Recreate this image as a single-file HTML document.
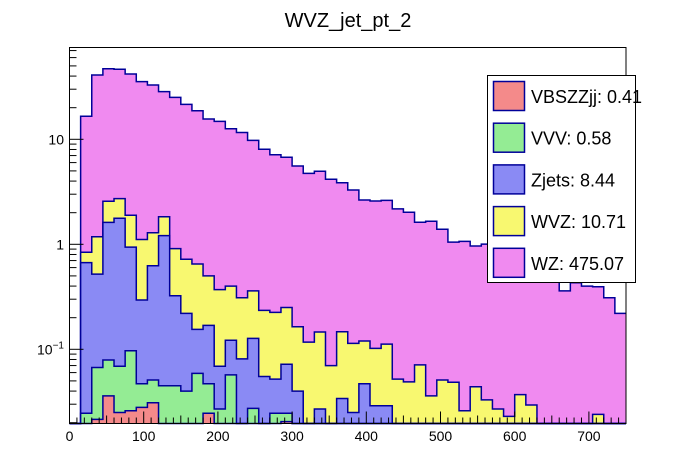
<!DOCTYPE html>
<html><head><meta charset="utf-8"><style>
html,body{margin:0;padding:0;background:#fff;}
svg{display:block;font-family:"Liberation Sans",sans-serif;}
</style></head><body>
<svg id="c" width="696" height="472" viewBox="0 0 696 472">
<text x="348" y="27" text-anchor="middle" font-size="20">WVZ_jet_pt_2</text>
<g id="hist"></g>
<rect x="69.5" y="47.5" width="556.5" height="376" fill="none" stroke="#000" stroke-width="1"/>
<g id="axes"></g>
<g>
<rect x="487.5" y="75.5" width="148" height="207" fill="#fff" stroke="#000"/>
<g id="leg"></g>
</g>
</svg>
<script>
const binEdges = [0, 750];
const nBins = 50;
const vbszzjj = [0,0,0.0215,0.036,0.025,0.026,0.028,0.031,0,0,0,0,0.0246,0,0,0,0,0,0,0.0205,0,0,0,0,0,0,0,0,0,0,0,0,0,0,0,0,0,0,0,0,0,0,0,0,0,0,0,0,0,0];
const vvv = [0,0.0246,0.0455,0.043,0.044,0.071,0.019,0.020,0.045,0.045,0.040,0.059,0.0224,0.027,0.057,0,0.0274,0,0.0246,0.0041,0,0,0,0,0,0,0,0,0,0,0,0,0,0,0,0,0,0,0,0,0,0,0,0,0,0,0,0,0,0];
const zjets = [0,0.645,0.453,1.54,1.70,0.843,0.248,0.574,1.165,0.279,0.18,0.096,0.122,0.042,0.065,0.081,0.0996,0.055,0.0274,0.0474,0.040,0,0.027,0,0.034,0.025,0.047,0.029,0.029,0,0,0,0,0,0,0,0,0,0,0,0,0,0,0,0,0,0,0,0,0];
const wvz = [0,0.17,0.66,0.95,0.95,0.95,0.815,0.665,0.62,0.586,0.50,0.495,0.331,0.301,0.278,0.229,0.233,0.18,0.173,0.178,0.124,0.117,0.119,0.070,0.113,0.089,0.073,0.073,0.083,0.052,0.049,0.071,0.036,0.051,0.0485,0.026,0.044,0.033,0.027,0.023,0.037,0.0295,0,0,0,0,0,0.024,0,0];
const wz = [0,15.76,39.8,44.4,43.7,40.0,34.3,31.6,26.6,24.2,20.8,18.05,15.1,14.43,12.2,11.29,9.42,7.8,6.9,6.49,5.41,4.62,4.81,4.09,3.71,3.18,2.52,2.48,2.51,2.12,1.97,1.55,1.62,1.34,1.0,1.04,0.92,0.97,0.85,0.75,0.64,0.57,0.53,0.48,0.36,0.43,0.40,0.37,0.31,0.22];
const legendLabels = ["VBSZZjj: 0.41","VVV: 0.58","Zjets: 8.44","WVZ: 10.71","WZ: 475.07"];
const xTicks = [0,100,200,300,400,500,600,700];
const yDecades = [0.1,1,10];

const NS="http://www.w3.org/2000/svg";
const X0=69.5,X1=626,YB=423.5,YT=47.5;
const yMin=Math.pow(10,(244.3-YB)/105);
function X(v){return X0+(v-binEdges[0])*(X1-X0)/(binEdges[1]-binEdges[0]);}
function Y(v){return 244.3-105*Math.log10(v);}
function mk(t,a,p){const e=document.createElementNS(NS,t);for(const k in a)e.setAttribute(k,a[k]);(p||document.getElementById('c')).appendChild(e);return e;}

const layers=[vbszzjj,vvv,zjets,wvz,wz];
const fills=['#f48a8a','#94ec94','#8a8af4','#f8f870','#f08af0'];
const names=['vbszzjj','vvv','zjets','wvz','wz'];
const cum=[];let run=new Array(nBins).fill(0);
layers.forEach((s,i)=>{run=run.map((r,b)=>r+s[b]);cum.push(run.slice());});
const bw=(binEdges[1]-binEdges[0])/nBins;
const hg=document.getElementById('hist');
for(let i=layers.length-1;i>=0;i--){
  let d='';
  for(let b=0;b<nBins;b++){
    const v=cum[i][b];
    if(v<=yMin)continue;
    const xa=X(binEdges[0]+b*bw),xb=X(binEdges[0]+(b+1)*bw);
    const y=Math.max(YT,Y(v));
    d+=`M${xa},${YB}V${y}H${xb}V${YB}Z`;
  }
  const p=mk('path',{d:d,fill:fills[i],stroke:'none'},hg);
  
  
  let o='';let prev=YB;
  for(let b=0;b<nBins;b++){
    const v=cum[i][b];
    const y=v>yMin?Math.max(YT,Y(v)):YB;
    const xa=X(binEdges[0]+b*bw),xb=X(binEdges[0]+(b+1)*bw);
    o+=(b===0?`M${xa},${prev}`:'')+`V${y}H${xb}`;prev=y;
  }
  const l=mk('path',{d:o,fill:'none',stroke:'#000099','stroke-width':1.5},hg);
  
  
}
const ax=document.getElementById('axes');
for(let v=0;v<=750;v+=10){
  const x=X(v);const len=v%100===0?12:(v%50===0?8:6);
  mk('line',{x1:x,x2:x,y1:YB,y2:YB-len,stroke:'#000'},ax);
}
xTicks.forEach(v=>{
  const t=mk('text',{x:X(v),y:441,'text-anchor':'middle','font-size':14},ax);
  t.textContent=v;
  
  
});
for(let e=-2;e<=1;e++){
  for(let m=1;m<10;m++){
    const v=m*Math.pow(10,e);const y=Y(v);
    if(y>YB||y<YT)continue;
    mk('line',{x1:X0,x2:X0+(m===1?14:7),y1:y,y2:y,stroke:'#000'},ax);
  }
}
yDecades.forEach(v=>{
  const t=mk('text',{x:64,y:Y(v)+5,'text-anchor':'end','font-size':14},ax);
  if(v<1){t.innerHTML='10<tspan dy="-6" font-size="10">−1</tspan>';}else t.textContent=v;
  
  
});
const lg=document.getElementById('leg');
legendLabels.forEach((s,i)=>{
  const cy=96+i*41.7;
  const r=mk('rect',{x:493.5,y:cy-14.5,width:31,height:29,fill:fills[i],stroke:'#000099','stroke-width':1.5},lg);
  
  
  const t=mk('text',{x:531,y:cy+7,'font-size':18},lg);
  t.textContent=s;
  
  
});
</script>
</body></html>
